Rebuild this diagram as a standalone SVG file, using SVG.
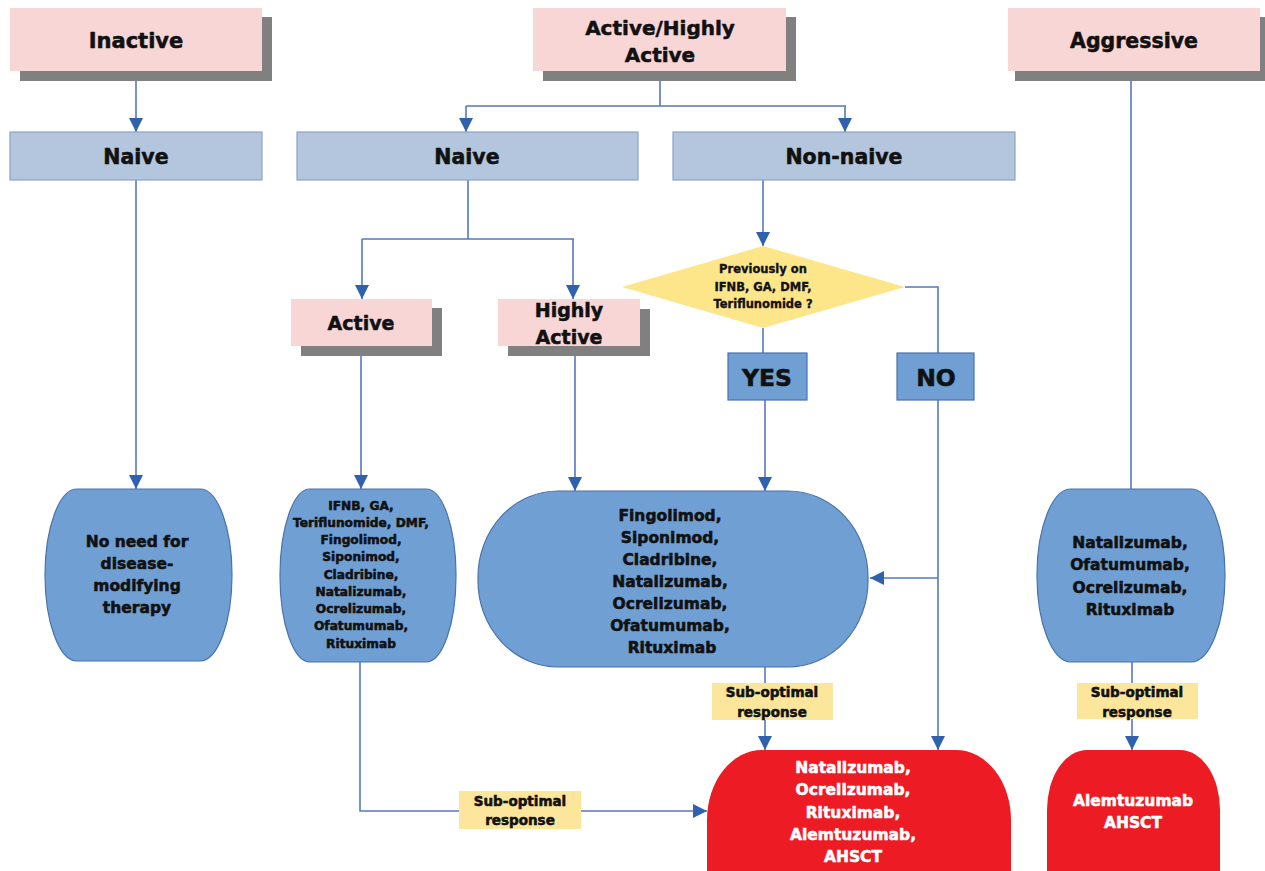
<svg xmlns="http://www.w3.org/2000/svg" width="1265" height="871" viewBox="0 0 1265 871">
<defs>
<style>
text{font-family:"DejaVu Sans","Liberation Sans",sans-serif;font-weight:bold;text-anchor:middle;fill:#111;stroke:#111;stroke-width:0.55px;stroke-linejoin:round}
.pink{fill:#f9d6d6}
.shadow{fill:#808080}
.lb{fill:#b3c6dd;stroke:#8aa3c6;stroke-width:1.2}
.blue{fill:#6f9fd3;stroke:#4a72ad;stroke-width:1.2}
.red{fill:#ed1c24}
.yel{fill:#fbe69b}
text.wt{fill:#fff;stroke:#fff}
.con{fill:none;stroke:#5578c0;stroke-width:1.6}
</style>
<marker id="ah" markerUnits="userSpaceOnUse" markerWidth="16" markerHeight="16" refX="14" refY="7" orient="auto">
<path d="M0,0 L14,7 L0,14 z" fill="#2f61ac"/>
</marker>
</defs>
<rect width="1265" height="871" fill="#fff"/>

<g id="connectors">
<path class="con" d="M136,81 V132" marker-end="url(#ah)"/>
<path class="con" d="M136,180 V489" marker-end="url(#ah)"/>
<path class="con" d="M660,81 V106 M466,106 H846"/>
<path class="con" d="M466,106 V132" marker-end="url(#ah)"/>
<path class="con" d="M845,106 V132" marker-end="url(#ah)"/>
<path class="con" d="M468,180 V239 M362,239 H574"/>
<path class="con" d="M362,239 V299" marker-end="url(#ah)"/>
<path class="con" d="M573,239 V299" marker-end="url(#ah)"/>
<path class="con" d="M763,180 V246" marker-end="url(#ah)"/>
<path class="con" d="M763,328 V353"/>
<path class="con" d="M905,287 H938 V353"/>
<path class="con" d="M361,356 V489" marker-end="url(#ah)"/>
<path class="con" d="M575,356 V491" marker-end="url(#ah)"/>
<path class="con" d="M765,400 V491" marker-end="url(#ah)"/>
<path class="con" d="M938,400 V750" marker-end="url(#ah)"/>
<path class="con" d="M938,578 H870" marker-end="url(#ah)"/>
<path class="con" d="M1131,81 V489"/>
<path class="con" d="M765,667 V750" marker-end="url(#ah)"/>
<path class="con" d="M1132,662 V750" marker-end="url(#ah)"/>
<path class="con" d="M360,662 V811 H707" marker-end="url(#ah)"/>
</g>

<g id="inactive">
<rect class="shadow" x="20" y="17" width="252" height="64"/>
<rect class="pink" x="10" y="8" width="252" height="63"/>
<text x="136" y="48" font-size="21">Inactive</text>
</g>
<g id="active-highly-active">
<rect class="shadow" x="543" y="17" width="253" height="64"/>
<rect class="pink" x="533" y="8" width="253" height="63"/>
<text x="660" y="35" font-size="20">Active/Highly</text>
<text x="660" y="62" font-size="20">Active</text>
</g>
<g id="aggressive">
<rect class="shadow" x="1015" y="17" width="252" height="64"/>
<rect class="pink" x="1008" y="8" width="252" height="63"/>
<text x="1134" y="48" font-size="20.5">Aggressive</text>
</g>

<g id="naive-left">
<rect class="lb" x="10" y="132" width="252" height="48"/>
<text x="136" y="164" font-size="20.5">Naive</text>
</g>
<g id="naive-mid">
<rect class="lb" x="297" y="132" width="341" height="48"/>
<text x="467" y="164" font-size="20.5">Naive</text>
</g>
<g id="non-naive">
<rect class="lb" x="673" y="132" width="342" height="48"/>
<text x="844" y="164" font-size="20.5">Non-naive</text>
</g>

<g id="active">
<rect class="shadow" x="301" y="308" width="141" height="48"/>
<rect class="pink" x="291" y="299" width="141" height="47"/>
<text x="361" y="330" font-size="19">Active</text>
</g>
<g id="highly-active">
<rect class="shadow" x="508" y="309" width="142" height="47"/>
<rect class="pink" x="498" y="299" width="142" height="47"/>
<text x="569" y="317" font-size="19">Highly</text>
<text x="569" y="344" font-size="19">Active</text>
</g>

<g id="decision">
<polygon points="622,287 763,246 905,287 763,328" fill="#fde58a"/>
<text x="763" y="273" font-size="11.5" style="stroke-width:0.35px">Previously on</text>
<text x="763" y="291" font-size="11.5" style="stroke-width:0.35px">IFNB, GA, DMF,</text>
<text x="763" y="308" font-size="11.5" style="stroke-width:0.35px">Teriflunomide ?</text>
</g>
<g id="yes">
<rect class="blue" x="728" y="353" width="79" height="47"/>
<text x="767" y="386" font-size="23.5">YES</text>
</g>
<g id="no">
<rect class="blue" x="897" y="353" width="77" height="47"/>
<text x="936" y="386" font-size="23.5">NO</text>
</g>

<g id="no-dmt">
<rect class="blue" x="45" y="489" width="187" height="172" rx="32" ry="86"/>
<text x="137" y="547" font-size="15.5">No need for</text>
<text x="137" y="569" font-size="15.5">disease-</text>
<text x="137" y="591" font-size="15.5">modifying</text>
<text x="137" y="613" font-size="15.5">therapy</text>
</g>
<g id="active-drugs" style="stroke-width:0.4px">
<rect class="blue" x="280" y="489" width="176" height="173" rx="30" ry="86"/>
<text x="361" y="510" font-size="12.2">IFNB, GA,</text>
<text x="361" y="527" font-size="12.2">Teriflunomide, DMF,</text>
<text x="361" y="544" font-size="12.2">Fingolimod,</text>
<text x="361" y="561" font-size="12.2">Siponimod,</text>
<text x="361" y="579" font-size="12.2">Cladribine,</text>
<text x="361" y="596" font-size="12.2">Natalizumab,</text>
<text x="361" y="613" font-size="12.2">Ocrelizumab,</text>
<text x="361" y="630" font-size="12.2">Ofatumumab,</text>
<text x="361" y="648" font-size="12.2">Rituximab</text>
</g>
<g id="highly-active-drugs">
<rect class="blue" x="478" y="491" width="390" height="176" rx="80" ry="86"/>
<text x="670" y="521" font-size="15.5">Fingolimod,</text>
<text x="670" y="543" font-size="15.5">Siponimod,</text>
<text x="670" y="565" font-size="15.5">Cladribine,</text>
<text x="670" y="587" font-size="15.5">Natalizumab,</text>
<text x="670" y="609" font-size="15.5">Ocrelizumab,</text>
<text x="670" y="631" font-size="15.5">Ofatumumab,</text>
<text x="672" y="653" font-size="15.5">Rituximab</text>
</g>
<g id="aggressive-drugs">
<rect class="blue" x="1037" y="489" width="188" height="173" rx="34" ry="86"/>
<text x="1130" y="548" font-size="15.5">Natalizumab,</text>
<text x="1130" y="570" font-size="15.5">Ofatumumab,</text>
<text x="1130" y="593" font-size="15.5">Ocrelizumab,</text>
<text x="1130" y="615" font-size="15.5">Rituximab</text>
</g>

<g id="suboptimal-mid">
<rect class="yel" x="712" y="683" width="121" height="37"/>
<text x="772" y="697" font-size="13.5">Sub-optimal</text>
<text x="772" y="717" font-size="13.5">response</text>
</g>
<g id="suboptimal-right">
<rect class="yel" x="1077" y="683" width="121" height="36"/>
<text x="1137" y="697" font-size="13.5">Sub-optimal</text>
<text x="1137" y="717" font-size="13.5">response</text>
</g>
<g id="suboptimal-left">
<rect class="yel" x="459" y="791" width="122" height="38"/>
<text x="520" y="806" font-size="13.5">Sub-optimal</text>
<text x="520" y="825" font-size="13.5">response</text>
</g>

<g id="escalation">
<rect class="red" x="707" y="750" width="304" height="190" rx="55" ry="70"/>
<text class="wt" x="853" y="773" font-size="15.5">Natalizumab,</text>
<text class="wt" x="853" y="795" font-size="15.5">Ocrelizumab,</text>
<text class="wt" x="853" y="818" font-size="15.5">Rituximab,</text>
<text class="wt" x="853" y="840" font-size="15.5">Alemtuzumab,</text>
<text class="wt" x="853" y="862" font-size="15.5">AHSCT</text>
</g>
<g id="aggressive-escalation">
<rect class="red" x="1047" y="750" width="173" height="190" rx="40" ry="60"/>
<text class="wt" x="1133" y="806" font-size="15.5">Alemtuzumab</text>
<text class="wt" x="1133" y="828" font-size="15.5">AHSCT</text>
</g>
</svg>
